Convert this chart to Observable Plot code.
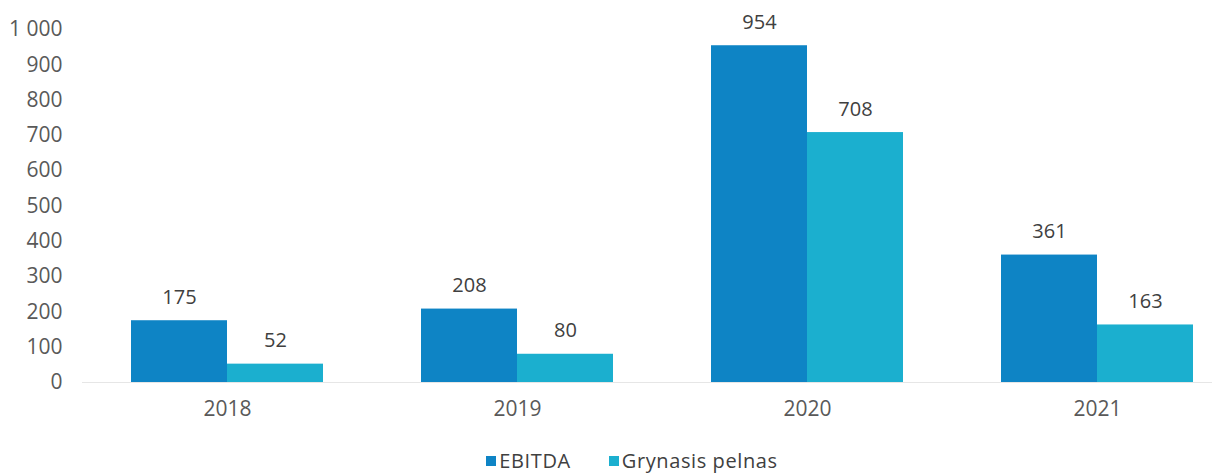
<!DOCTYPE html>
<html>
<head>
<meta charset="utf-8">
<script src="https://cdn.jsdelivr.net/npm/d3@7"></script>
<script src="https://cdn.jsdelivr.net/npm/@observablehq/plot@0.6"></script>
<style>
  html, body { margin: 0; padding: 0; background: #fff; }
  #chart { width: 1212px; font-family: "Open Sans", Lato, sans-serif; }
  .legend { display: flex; justify-content: center; gap: 38px; font-size: 20px; line-height: 24px; color: #404040; margin-top: 9px; padding-left: 52px; letter-spacing: 0.6px; }
  .legend span.item { display: inline-flex; align-items: center; }
  .legend span.sw { width: 10px; height: 10px; display: inline-block; margin-right: 3px; }
</style>
</head>
<body>
<div id="chart"></div>
<script>
const years = ["2018", "2019", "2020", "2021"];
const seriesNames = ["EBITDA", "Grynasis pelnas"];
const ebitda = [175, 208, 954, 361];
const grynasis = [52, 80, 708, 163];
const colors = ["#0E84C5", "#1BAFCF"];
const yTicks = [0, 100, 200, 300, 400, 500, 600, 700, 800, 900, 1000];

const data = [];
years.forEach((y, i) => {
  data.push({year: y, series: seriesNames[0], value: ebitda[i]});
  data.push({year: y, series: seriesNames[1], value: grynasis[i]});
});

const fmt = d3.formatLocale({decimal: ",", thousands: "\u00a0", grouping: [3], currency: ["", ""]}).format(",");

const plot = Plot.plot({
  width: 1212,
  height: 440,
  marginLeft: 81,
  marginRight: -30,
  marginTop: 29,
  marginBottom: 58,
  style: {fontSize: "21px", fontFamily: "'Open Sans', Lato, sans-serif", color: "#595959", background: "#fff"},
  fx: {domain: years, padding: 0, axis: "bottom", tickSize: 0, tickPadding: 19, label: null},
  x: {domain: seriesNames, paddingInner: 0, paddingOuter: 0.51, axis: null},
  y: {domain: [0, 1000], ticks: yTicks, tickFormat: fmt, tickSize: 0, tickPadding: 20, label: null},
  color: {domain: seriesNames, range: colors},
  marks: [
    Plot.ruleY([0], {stroke: "#e6e6e6"}),
    Plot.barY(data, {fx: "year", x: "series", y: "value", fill: "series"}),
    Plot.text(data, {fx: "year", x: "series", y: "value", text: d => String(d.value), dy: -17, lineAnchor: "bottom", fontSize: 20, fill: "#404040"})
  ]
});

const chart = document.getElementById("chart");
chart.appendChild(plot);

const legend = document.createElement("div");
legend.className = "legend";
seriesNames.forEach((s, i) => {
  const item = document.createElement("span");
  item.className = "item";
  const sw = document.createElement("span");
  sw.className = "sw";
  sw.style.background = colors[i];
  item.appendChild(sw);
  item.appendChild(document.createTextNode(s));
  legend.appendChild(item);
});
chart.appendChild(legend);
</script>
</body>
</html>
